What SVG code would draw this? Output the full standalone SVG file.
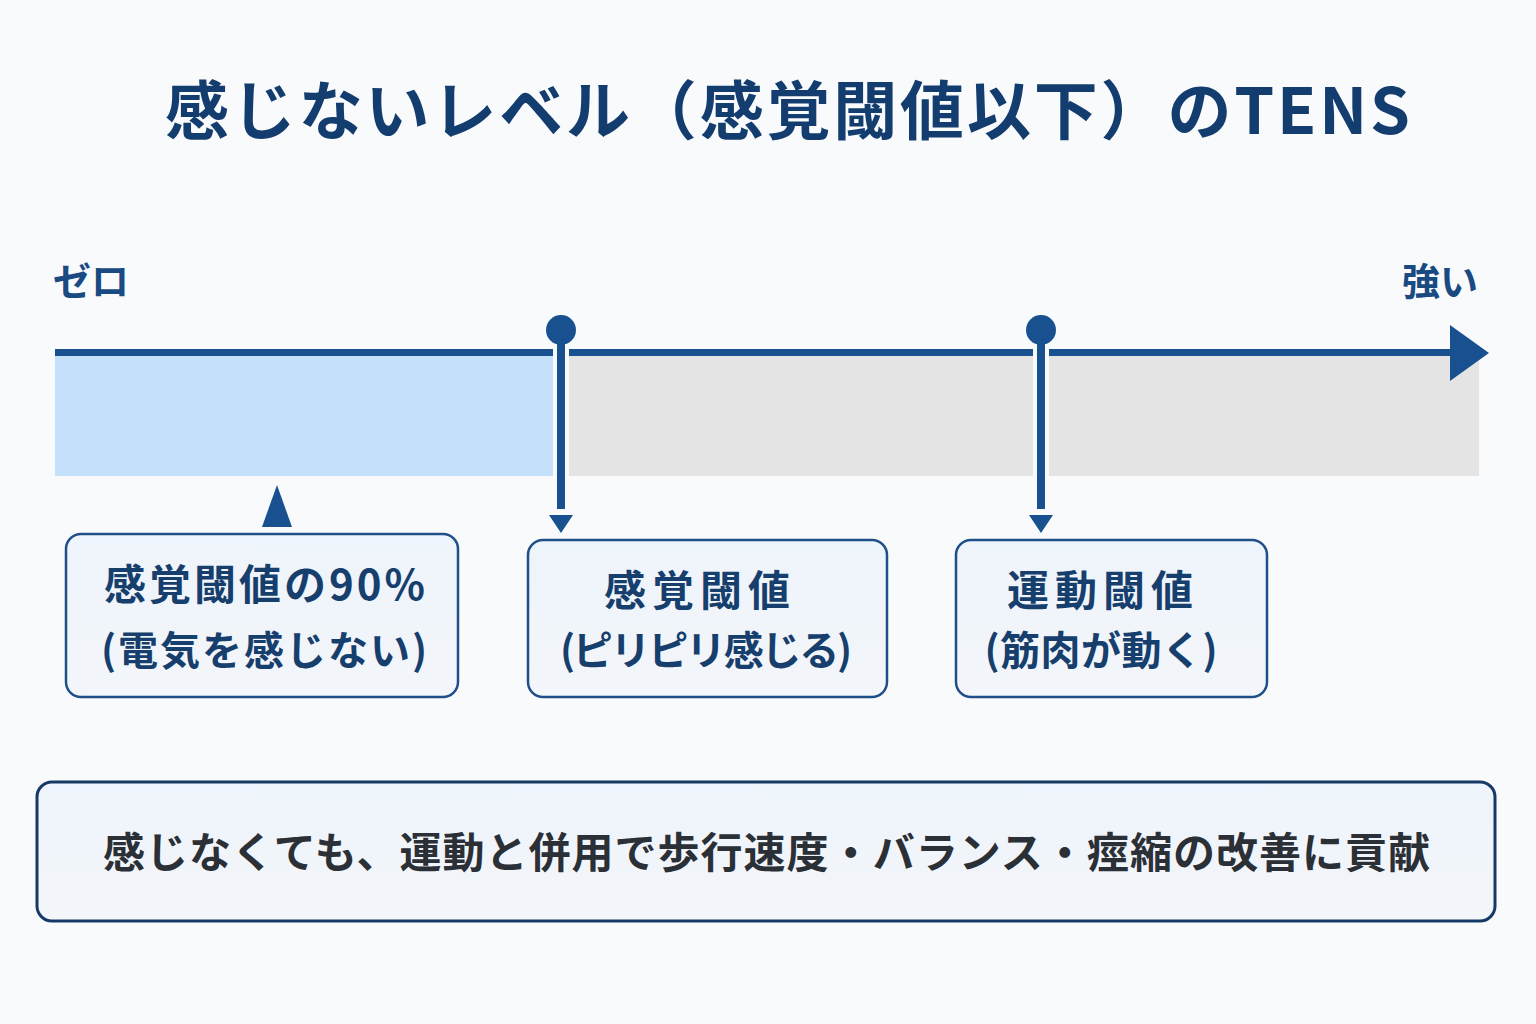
<svg xmlns="http://www.w3.org/2000/svg" width="1536" height="1024" viewBox="0 0 1536 1024">
<style>
text{font-family:"Noto Sans CJK JP","Noto Sans",sans-serif;font-weight:700}
.title{font-size:64px;fill:#133d6f}
.axis-label{font-size:38px;fill:#1a4a82}
.box{fill:url(#boxfill);stroke:#1f4f88;stroke-width:2.5}
.bl1{font-size:42px;fill:#173f6e;letter-spacing:3px}
.bl2{font-size:40px;fill:#173f6e}
.note{font-size:42px;fill:#2b2f36}
</style>
<defs>
<linearGradient id="boxfill" x1="0" y1="0" x2="0" y2="1">
<stop offset="0" stop-color="#eef4fb"/>
<stop offset="1" stop-color="#f3f6fa"/>
</linearGradient>
</defs>
<rect width="1536" height="1024" fill="#f9fafc"/>
<g id="title"><text class="title" x="165" y="134" textLength="1245" lengthAdjust="spacing">感じないレベル（感覚閾値以下）のTENS</text></g>

<g id="scale">
<rect x="55" y="356" width="498" height="120" fill="#c5e0fb"/>
<rect x="569" y="356" width="910" height="120" fill="#e4e4e4"/>
<rect x="55" y="349" width="1400" height="7" fill="#19508f"/>
<polygon points="1450,325 1489,353 1450,381" fill="#19508f"/>
<text class="axis-label" x="53" y="295">ゼロ</text>
<text class="axis-label" x="1478" y="295" text-anchor="end">強い</text>
</g>

<g id="connectors">
<line x1="561" y1="330" x2="561" y2="476" stroke="#f9fafc" stroke-width="16"/>
<line x1="561" y1="330" x2="561" y2="509" stroke="#19508f" stroke-width="8"/>
<circle cx="561" cy="330" r="15" fill="#19508f"/>
<polygon points="549,515 573,515 561,533" fill="#19508f"/>
<line x1="1041" y1="330" x2="1041" y2="476" stroke="#f9fafc" stroke-width="16"/>
<line x1="1041" y1="330" x2="1041" y2="509" stroke="#19508f" stroke-width="8"/>
<circle cx="1041" cy="330" r="15" fill="#19508f"/>
<polygon points="1029,515 1053,515 1041,533" fill="#19508f"/>
<polygon points="277,485 292,527 262,527" fill="#19508f"/>
</g>

<g id="node-below">
<rect class="box" x="66" y="534" width="392" height="163" rx="15"/>
<text class="bl1" x="266" y="600" text-anchor="middle">感覚閾値の90%</text>
<text class="bl2" x="264" y="665" text-anchor="middle" textLength="326" lengthAdjust="spacing">(電気を感じない)</text>
</g>

<g id="node-sensory">
<rect class="box" x="528" y="540" width="359" height="157" rx="15"/>
<text class="bl1" x="700" y="606" text-anchor="middle" style="letter-spacing:6px">感覚閾値</text>
<text class="bl2" x="706" y="665" text-anchor="middle" textLength="292" lengthAdjust="spacing">(ピリピリ感じる)</text>
</g>

<g id="node-motor">
<rect class="box" x="956" y="540" width="311" height="157" rx="15"/>
<text class="bl1" x="1103" y="606" text-anchor="middle" style="letter-spacing:6px">運動閾値</text>
<text class="bl2" x="1101" y="665" text-anchor="middle" textLength="233" lengthAdjust="spacing">(筋肉が動く)</text>
</g>

<g id="node-note">
<rect x="37" y="782" width="1458" height="139" rx="15" fill="url(#boxfill)" stroke="#163a66" stroke-width="3"/>
<text class="note" x="103" y="868" textLength="1327" lengthAdjust="spacing">感じなくても、運動と併用で歩行速度・バランス・痙縮の改善に貢献</text>
</g>
</svg>
